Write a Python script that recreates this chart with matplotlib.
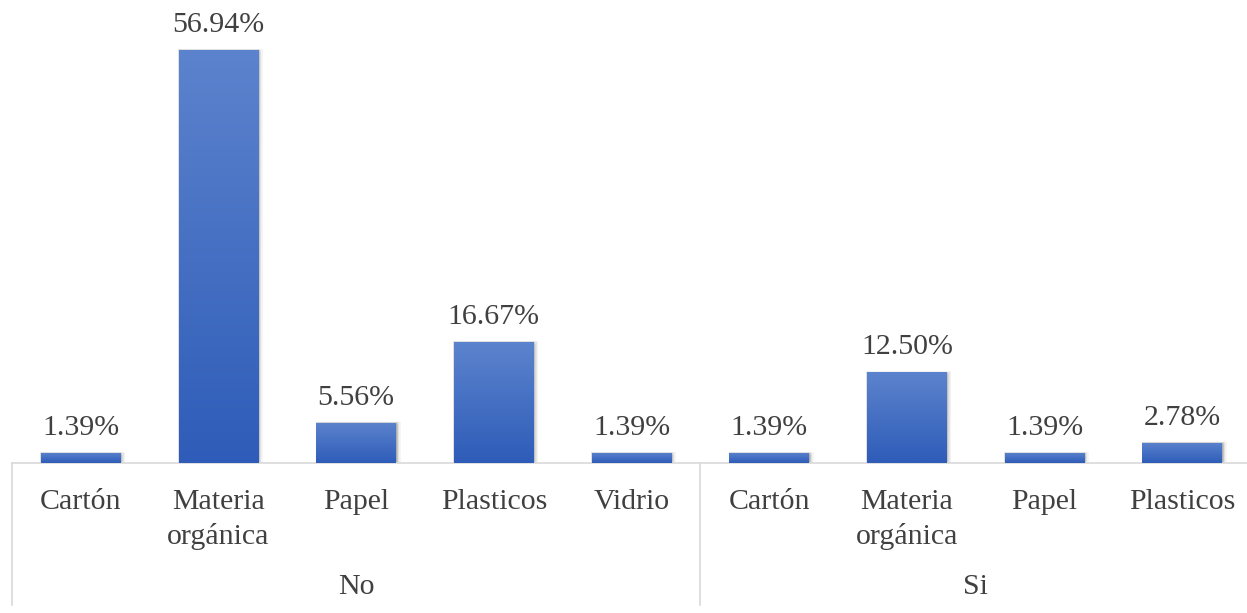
import matplotlib
matplotlib.use('Agg')
import matplotlib.pyplot as plt
import numpy as np
from matplotlib.colors import LinearSegmentedColormap
from matplotlib.patches import Rectangle
from matplotlib.lines import Line2D
from matplotlib.transforms import blended_transform_factory, ScaledTranslation

# ---- data ----
groups = ['No', 'Si']
group_sizes = [5, 4]
categories = ['Cartón', 'Materia\norgánica', 'Papel', 'Plasticos', 'Vidrio',
              'Cartón', 'Materia\norgánica', 'Papel', 'Plasticos']
values = [1.39, 56.94, 5.56, 16.67, 1.39,
          1.39, 12.50, 1.39, 2.78]

W, H = 1247, 613
fig = plt.figure(figsize=(W / 100, H / 100), dpi=100)
fig.patch.set_facecolor('white')

ax_left, ax_right = 12, 1251
ax_bottom, ax_top = 463, 28
ax = fig.add_axes([ax_left / W, (H - ax_bottom) / H,
                   (ax_right - ax_left) / W, (ax_bottom - ax_top) / H])

serif = ['Liberation Serif', 'DejaVu Serif']
txt_color = '#404040'
fs = 21.5

x = np.arange(len(values))
bar_w = 0.58
cmap = LinearSegmentedColormap.from_list('g', ['#2E5CB8', '#5C83CD'])
grad = np.linspace(0, 1, 256).reshape(-1, 1)

bars = ax.bar(x, values, width=bar_w, color='#3F6AC2', zorder=3, linewidth=0)

for b in bars:
    x0, y0 = b.get_x(), b.get_y()
    w, h = b.get_width(), b.get_height()
    # soft shadow
    for k, a in [(3, 0.04), (2, 0.06), (1, 0.09)]:
        tr = ax.transData + ScaledTranslation(k * 0.5 / 100, -k * 0.3 / 100, fig.dpi_scale_trans)
        sh = Rectangle((x0, y0), w, h, transform=tr, facecolor='black',
                       alpha=a, linewidth=k * 1.2, edgecolor='black', zorder=2)
        ax.add_patch(sh)
    im = ax.imshow(grad, extent=[x0, x0 + w, y0, y0 + h], origin='lower',
                   aspect='auto', cmap=cmap, zorder=4, interpolation='bicubic')
    im.set_clip_path(b)

ax.set_xlim(-0.5, len(values) - 0.5)
ax.set_ylim(0, 60)

# value labels
px_per_unit = (ax_bottom - ax_top) / 60.0
for xi, v in zip(x, values):
    ax.text(xi, v + 18 / px_per_unit, f'{v:.2f}%', ha='center', va='baseline',
            fontsize=fs, family=serif, color=txt_color, clip_on=False, zorder=5)

# axes styling
for s in ['top', 'right', 'left']:
    ax.spines[s].set_visible(False)
ax.spines['bottom'].set_color('#D9D9D9')
ax.spines['bottom'].set_linewidth(1.2)
ax.set_yticks([])
ax.set_xticks(x)
ax.set_xticklabels(categories, fontsize=fs, family=serif, color=txt_color,
                   linespacing=1.38)
ax.tick_params(axis='x', length=0, pad=19)

# group separators
sep_positions = [0]
acc = 0
for n in group_sizes:
    acc += n
    sep_positions.append(acc)
for sp in sep_positions[:-1]:
    px = ax_left + sp * (ax_right - ax_left) / len(values)
    fig.add_artist(Line2D([px / W, px / W], [(H - ax_bottom) / H, (H - 605) / H],
                          color='#D9D9D9', linewidth=1.2))

# group labels
tr = blended_transform_factory(ax.transData, fig.transFigure)
start = 0
for g, n in zip(groups, group_sizes):
    center = start + (n - 1) / 2
    ax.text(center, (H - 587) / H, g, transform=tr, ha='center', va='center',
            fontsize=fs, family=serif, color=txt_color, clip_on=False)
    start += n

fig.savefig('out.png', dpi=100, facecolor='white')
